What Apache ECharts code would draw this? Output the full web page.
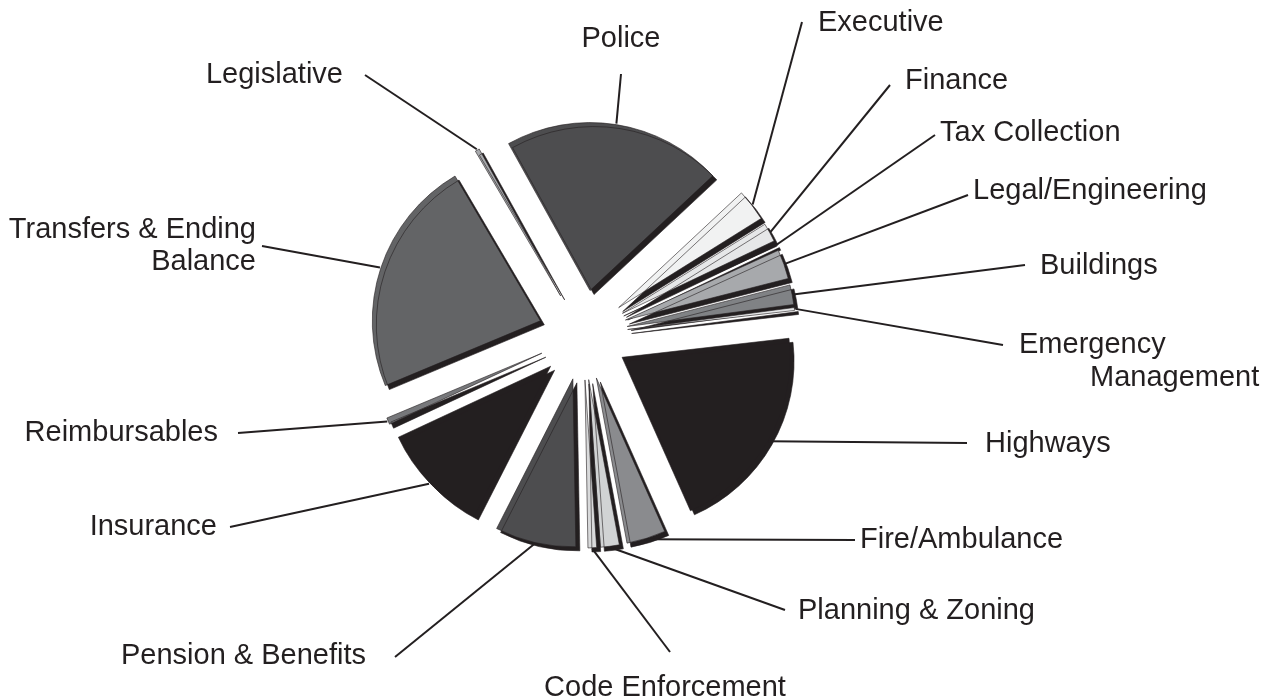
<!DOCTYPE html>
<html>
<head>
<meta charset="utf-8">
<script src="https://cdn.jsdelivr.net/npm/echarts@6/dist/echarts.min.js"></script>
<style>
html,body{margin:0;padding:0;background:#fff;}
#chart{width:1288px;height:700px;}
</style>
</head>
<body>
<div id="chart"></div>
<script>
// Categories in clockwise order starting from Police
const categories = ['Police','Executive','Finance','Tax Collection','Legal/Engineering','Buildings','Emergency Management','Highways','Fire/Ambulance','Planning & Zoning','Code Enforcement','Pension & Benefits','Insurance','Reimbursables','Transfers & Ending Balance','Legislative'];
// Share of budget (%)
const values = [21.1,3.06,1.81,0.28,2.83,1.89,0.28,20.14,3.75,1.81,0.83,7.78,10.56,0.64,22.83,0.42];
const colors = ['#4d4d4f','#f1f2f2','#e6e7e8','#231f20','#a7a9ac','#808285','#e6e7e8','#231f20','#8a8b8e','#d1d3d4','#d9dadb','#4d4d4f','#231f20','#77787b','#636466','#a7a9ac'];
// Label texts as displayed
const labelTexts = ['Police','Executive','Finance','Tax Collection','Legal/Engineering','Buildings','{a|Emergency}\n{b|Management}','Highways','Fire/Ambulance','Planning & Zoning','Code Enforcement','Pension & Benefits','Insurance','Reimbursables','Transfers & Ending\nBalance','Legislative'];
// Label placement: [textX, textY, align, lineEndX, lineEndY]
const labelPlace = [
  [621, 39, 'center', 621, 74],
  [818, 23, 'left', 802, 22],
  [905, 81, 'left', 890, 85],
  [940, 133, 'left', 935, 135],
  [973, 191, 'left', 968, 195],
  [1040, 266, 'left', 1025, 265],
  [1019, 361, 'left', 1003, 345],
  [985, 444, 'left', 967, 443],
  [860, 540, 'left', 855, 540],
  [798, 611, 'left', 785, 610],
  [665, 688, 'center', 670, 652],
  [366, 656, 'right', 395, 657],
  [217, 527, 'right', 230, 527],
  [218, 433, 'right', 238, 433],
  [256, 246, 'right', 262, 246],
  [343, 75, 'right', 365, 75]
];

const CX = 583, CY = 335, R = 168, OFFSET = 45, START = 119;

const total = values.reduce((s, v) => s + v, 0);
const midAngles = [];
let acc = 0;
values.forEach(v => {
  const a0 = START - acc / total * 360;
  acc += v;
  const a1 = START - acc / total * 360;
  midAngles.push((a0 + a1) / 2 * Math.PI / 180);
});

const FONT = 'Liberation Sans, Arial, sans-serif';
const FS = 29;
const chart = echarts.init(document.getElementById('chart'));
chart.setOption({
  animation: false,
  backgroundColor: '#ffffff',
  series: [{
    // exploded slices
    type: 'pie',
    center: [CX, CY],
    radius: [0, R],
    startAngle: START,
    clockwise: true,
    selectedMode: 'multiple',
    selectedOffset: OFFSET,
    minAngle: 0,
    silent: true,
    emphasis: {disabled: true},
    itemStyle: {
      borderColor: '#231f20',
      borderWidth: 0.6,
      shadowColor: '#231f20',
      shadowOffsetX: 4,
      shadowOffsetY: 4,
      shadowBlur: 0
    },
    label: {show: false},
    labelLine: {show: false},
    data: categories.map((c, i) => ({
      name: c,
      value: values[i],
      selected: true,
      itemStyle: {color: colors[i]}
    }))
  }, {
    // labels and leader lines
    type: 'pie',
    center: [CX, CY],
    radius: [0, R],
    startAngle: START,
    clockwise: true,
    avoidLabelOverlap: false,
    minAngle: 0,
    silent: true,
    z: 3,
    emphasis: {disabled: true},
    itemStyle: {color: 'rgba(0,0,0,0)', borderWidth: 0},
    label: {
      show: true,
      position: 'outside',
      fontFamily: FONT,
      fontSize: FS,
      color: '#231f20',
      lineHeight: 32,
      rich: {
        a: {fontFamily: FONT, fontSize: FS, color: '#231f20', lineHeight: 33},
        b: {fontFamily: FONT, fontSize: FS, color: '#231f20', lineHeight: 33, padding: [0, 0, 0, 71]}
      }
    },
    labelLine: {
      show: true,
      smooth: false,
      lineStyle: {color: '#231f20', width: 2}
    },
    labelLayout: function (p) {
      const i = p.dataIndex;
      const s = labelPlace[i];
      const a = midAngles[i];
      const sx = CX + (OFFSET + R + 1) * Math.cos(a);
      const sy = CY - (OFFSET + R + 1) * Math.sin(a);
      return {
        x: s[0], y: s[1], align: s[2], verticalAlign: 'middle',
        labelLinePoints: [[sx, sy], [sx, sy], [s[3], s[4]]]
      };
    },
    data: categories.map((c, i) => ({
      name: c,
      value: values[i],
      label: {formatter: labelTexts[i]}
    }))
  }]
});
</script>
</body>
</html>
